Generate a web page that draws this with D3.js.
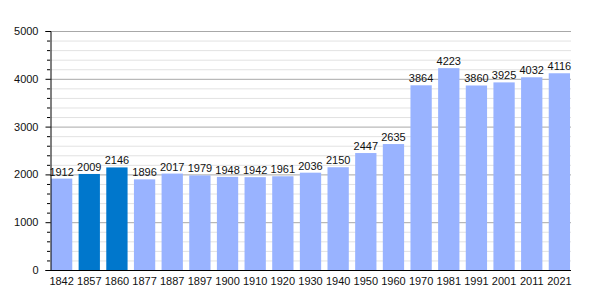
<!DOCTYPE html>
<html>
<head>
<meta charset="utf-8">
<script src="https://cdn.jsdelivr.net/npm/d3@7"></script>
<style>
  body { margin: 0; background: #fff; }
  text { font-family: "Liberation Sans", Arial, sans-serif; fill: #111; }
</style>
</head>
<body>
<div id="chart"></div>
<script>
// data
var years = ["1842", "1857", "1860", "1877", "1887", "1897", "1900", "1910", "1920", "1930",
    "1940", "1950", "1960", "1970", "1981", "1991", "2001", "2011", "2021"];
var population = [1912, 2009, 2146, 1896, 2017, 1979, 1948, 1942, 1961, 2036,
    2150, 2447, 2635, 3864, 4223, 3860, 3925, 4032, 4116];
var highlighted = ["1857", "1860"];
var yTicks = [0, 1000, 2000, 3000, 4000, 5000];

var svgWidth = 600;
var svgHeight = 300;

var margin = { top: 31, right: 29, bottom: 30, left: 50 };
var width = svgWidth - margin.left - margin.right;
var height = svgHeight - margin.top - margin.bottom;

var svg = d3.select("#chart")
    .append("svg")
    .attr("width", svgWidth)
    .attr("height", svgHeight);

var chartGroup = svg.append("g")
    .attr("transform", `translate(${margin.left}, ${margin.top})`);

var xScale = d3.scaleBand()
    .domain(years)
    .range([0, width])
    .paddingInner(0.23)
    .paddingOuter(0.035);

var yScale = d3.scaleLinear()
    .domain([0, 5000])
    .range([height, 0]);

// minor gridlines every 200
var minor = d3.range(200, 5000, 200).filter(d => d % 1000 !== 0);
chartGroup.selectAll(".minor")
    .data(minor)
    .enter()
    .append("line")
    .attr("x1", 0)
    .attr("x2", width)
    .attr("y1", d => yScale(d) + 0.5)
    .attr("y2", d => yScale(d) + 0.5)
    .attr("stroke", "#e2e2e2")
    .attr("stroke-width", 1);

// major gridlines
chartGroup.selectAll(".major")
    .data(yTicks.slice(1))
    .enter()
    .append("line")
    .attr("x1", 0)
    .attr("x2", width)
    .attr("y1", d => yScale(d) + 0.5)
    .attr("y2", d => yScale(d) + 0.5)
    .attr("stroke", "#a8a8a8")
    .attr("stroke-width", 1);

// bars
chartGroup.selectAll(".bar")
    .data(years)
    .enter()
    .append("rect")
    .attr("x", d => xScale(d))
    .attr("y", (d, i) => yScale(population[i]))
    .attr("width", xScale.bandwidth())
    .attr("height", (d, i) => height - yScale(population[i]))
    .attr("fill", d => highlighted.includes(d) ? "#0077cc" : "#99b3ff");

// value labels
chartGroup.selectAll(".val")
    .data(years)
    .enter()
    .append("text")
    .attr("x", d => xScale(d) + xScale.bandwidth() / 2)
    .attr("y", (d, i) => yScale(population[i]) - 3)
    .attr("text-anchor", "middle")
    .attr("font-size", "11px")
    .text((d, i) => population[i]);

// y axis with minor ticks
chartGroup.selectAll(".minortick")
    .data(minor)
    .enter()
    .append("line")
    .attr("x1", -3)
    .attr("x2", 0)
    .attr("y1", d => yScale(d) + 0.5)
    .attr("y2", d => yScale(d) + 0.5)
    .attr("stroke", "#000");

var leftAxis = d3.axisLeft(yScale)
    .tickValues(yTicks)
    .tickSize(5)
    .tickPadding(7)
    .tickFormat(d3.format("d"));

var yAxis = chartGroup.append("g")
    .attr("transform", "translate(0.5, 0)")
    .call(leftAxis);
yAxis.selectAll("text").attr("font-size", "11px").attr("font-family", "Liberation Sans, Arial, sans-serif");

// x axis
var bottomAxis = d3.axisBottom(xScale).tickSize(0).tickPadding(7);
var xAxis = chartGroup.append("g")
    .attr("transform", `translate(0, ${height + 0.5})`)
    .call(bottomAxis);
xAxis.select(".domain").attr("d", `M0,0H${width}`);
xAxis.selectAll("text").attr("font-size", "11px").attr("font-family", "Liberation Sans, Arial, sans-serif");
</script>
</body>
</html>
